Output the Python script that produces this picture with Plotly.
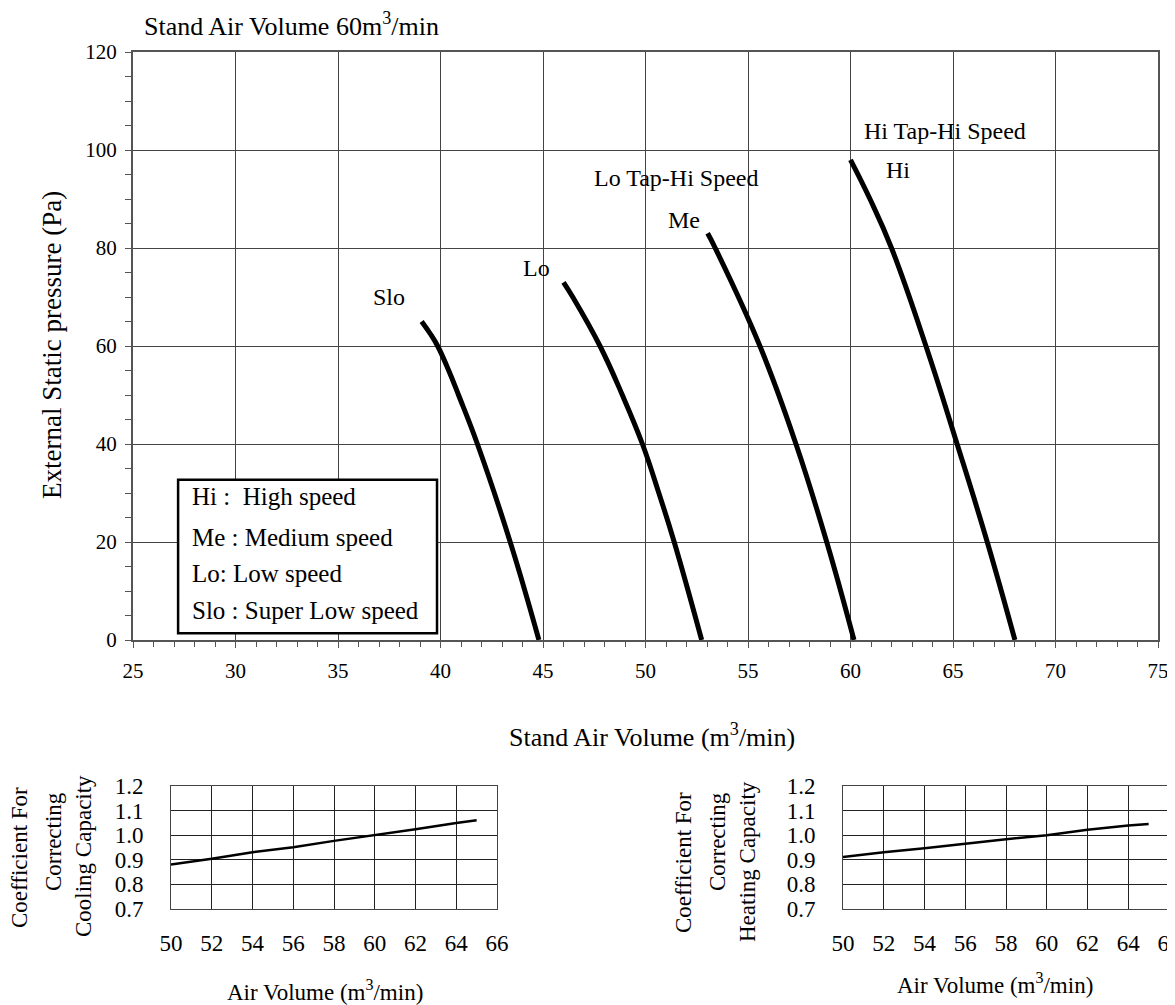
import plotly.graph_objects as go

# fan curves: air volume (m3/min) vs external static pressure (Pa)
slo_x = [39.08, 39.5, 39.86, 40.4, 40.88, 41.8, 43.4, 44.8]
slo_y = [65, 62.5, 60, 55, 50, 40, 20, 0]
lo_x = [46.0, 46.45, 47.78, 48.87, 49.85, 50.65, 51.4, 52.74]
lo_y = [73, 70, 60, 50, 40, 30, 20, 0]
me_x = [53.03, 53.4, 55.58, 57.34, 58.84, 60.17]
me_y = [83, 80, 60, 40, 20, 0]
hi_x = [60.0, 60.95, 62.0, 63.68, 65.2, 66.67, 68.02]
hi_y = [98, 90, 80, 60, 40, 20, 0]

# correction coefficients
coef_x = [50, 52, 54, 56, 58, 60, 62, 64, 65]
cool_y = [0.881, 0.904, 0.931, 0.951, 0.977, 1.0, 1.024, 1.05, 1.061]
heat_y = [0.911, 0.931, 0.947, 0.966, 0.984, 1.0, 1.022, 1.039, 1.046]

# the page body adds an 8px margin around the figure
OFF = 8
W, H = 1175 - OFF, 1005 - OFF
FONT = "Liberation Serif, Times New Roman, serif"


def px(x):
    return (x - OFF) / W


def py(y):
    return 1 - (y - OFF) / H


fig = go.Figure()

for xs, ys in [(slo_x, slo_y), (lo_x, lo_y), (me_x, me_y), (hi_x, hi_y)]:
    fig.add_trace(go.Scatter(x=xs, y=ys, mode="lines",
                             line=dict(color="black", width=5, shape="spline", smoothing=1.2),
                             xaxis="x", yaxis="y", showlegend=False))

fig.add_trace(go.Scatter(x=coef_x, y=cool_y, mode="lines", line=dict(color="black", width=2.5),
                         xaxis="x2", yaxis="y2", showlegend=False))
fig.add_trace(go.Scatter(x=coef_x, y=heat_y, mode="lines", line=dict(color="black", width=2.5),
                         xaxis="x3", yaxis="y3", showlegend=False))

small_x = dict(range=[50, 66], tickvals=list(range(50, 67, 2)), showgrid=True, gridcolor="#222", gridwidth=1,
               showline=True, linecolor="#444", linewidth=1, mirror=True, ticks="", zeroline=False,
               tickfont=dict(size=23), ticklabelstandoff=13, automargin=False, ticklabeloverflow="allow")
small_y = dict(range=[0.7, 1.2], tickvals=[0.7, 0.8, 0.9, 1.0, 1.1, 1.2], tickformat=".1f", showgrid=True,
               gridcolor="#222", gridwidth=1, showline=True, linecolor="#444", linewidth=1, mirror=True,
               ticks="", zeroline=False, tickfont=dict(size=23), ticklabelstandoff=22, automargin=False)

fig.update_layout(
    width=W, height=H,
    margin=dict(l=0, r=0, t=0, b=0, pad=0),
    plot_bgcolor="white", paper_bgcolor="white",
    font=dict(family=FONT, color="black", size=24),
    xaxis=dict(domain=[px(133), px(1158)], range=[25, 75], dtick=5, showgrid=True, gridcolor="#444",
               gridwidth=1, showline=True, linecolor="#555", linewidth=2, mirror=True, ticks="outside",
               ticklen=6, tickcolor="#555", zeroline=False, tickfont=dict(size=21), ticklabelstandoff=5,
               automargin=False,
               minor=dict(dtick=1, ticks="outside", ticklen=5, tickcolor="#555", showgrid=False)),
    yaxis=dict(domain=[py(640), py(52)], range=[0, 120], dtick=20, showgrid=True, gridcolor="#444",
               gridwidth=1, showline=True, linecolor="#555", linewidth=2, mirror=True, ticks="outside",
               ticklen=6, tickcolor="#555", zeroline=False, tickfont=dict(size=21), ticklabelstandoff=4,
               automargin=False,
               minor=dict(dtick=5, ticks="outside", ticklen=6, tickcolor="#555", showgrid=False)),
    xaxis2=dict(domain=[px(171), px(497)], anchor="y2", **small_x),
    yaxis2=dict(domain=[py(909), py(786)], anchor="x2", **small_y),
    xaxis3=dict(domain=[px(843), px(1169)], anchor="y3", **small_x),
    yaxis3=dict(domain=[py(909), py(786)], anchor="x3", **small_y),
)

# legend box
fig.add_shape(type="rect", xref="x", yref="y", x0=27.2, x1=39.83, y0=1.4, y1=32.7,
              line=dict(color="black", width=2.5), fillcolor="white", layer="above")
legend_lines = ["Hi :  High speed", "Me : Medium speed", "Lo: Low speed", "Slo : Super Low speed"]
legend_ys = [29.2, 21.0, 13.5, 6.1]
for txt, yy in zip(legend_lines, legend_ys):
    fig.add_annotation(x=27.8, y=yy, xref="x", yref="y", text=txt, showarrow=False, xanchor="left",
                       yanchor="middle", font=dict(size=25))

# curve labels
curve_labels = [("Slo", 37.5, 70.0), ("Lo", 44.7, 75.9), ("Me", 51.9, 85.7), ("Hi", 62.3, 95.9),
                ("Lo Tap-Hi Speed", 51.5, 94.3), ("Hi Tap-Hi Speed", 64.6, 103.9)]
for txt, xx, yy in curve_labels:
    fig.add_annotation(x=xx, y=yy, xref="x", yref="y", text=txt, showarrow=False, xanchor="center",
                       yanchor="middle", font=dict(size=24))


# titles
def label(txt, x, y, size, angle=0, xanchor="center"):
    fig.add_annotation(x=px(x), y=py(y), xref="paper", yref="paper", showarrow=False, text=txt,
                       textangle=angle, xanchor=xanchor, yanchor="middle", font=dict(size=size))


label("Stand Air Volume 60m<sup>3</sup>/min", 142, 25, 26, xanchor="left")
label("External Static pressure (Pa)", 52, 345, 27, angle=-90)
label("Stand Air Volume (m<sup>3</sup>/min)", 652, 735, 26)

side_titles = [("Coefficient For", 19, 858), ("Correcting", 53, 842), ("Cooling Capacity", 83, 856),
               ("Coefficient For", 683, 863), ("Correcting", 717, 842), ("Heating Capacity", 747, 862)]
for txt, xx, yy in side_titles:
    label(txt, xx, yy, 23, angle=-90)

label("Air Volume (m<sup>3</sup>/min)", 325, 990, 23)
label("Air Volume (m<sup>3</sup>/min)", 995, 983, 23)

fig.write_html("out.html")
